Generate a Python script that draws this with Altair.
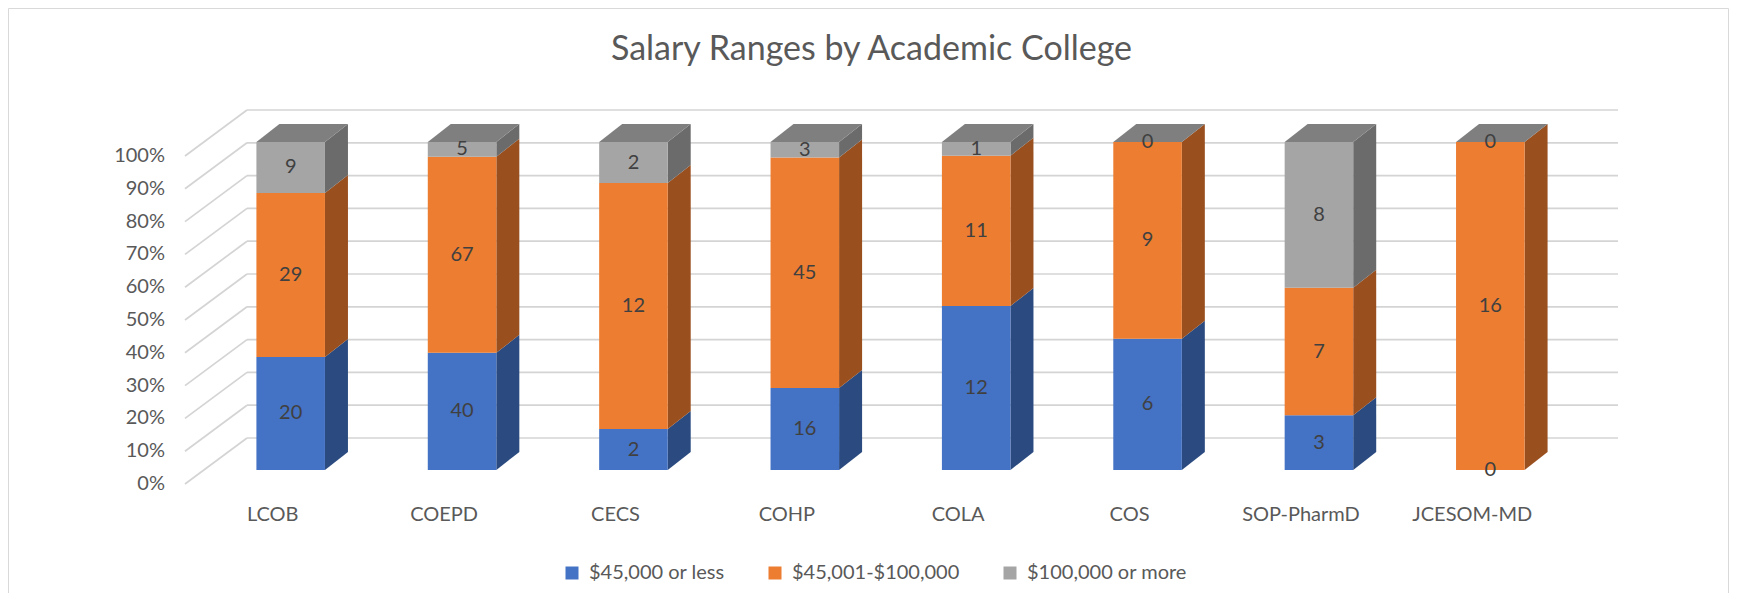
import altair as alt
import pandas as pd

# ---------------- data ----------------
colleges = ["LCOB", "COEPD", "CECS", "COHP", "COLA", "COS", "SOP-PharmD", "JCESOM-MD"]
series = ["$45,000 or less", "$45,001-$100,000", "$100,000 or more"]
count_low = [20, 40, 2, 16, 12, 6, 3, 0]
count_mid = [29, 67, 12, 45, 11, 9, 7, 16]
count_high = [9, 5, 2, 3, 1, 0, 8, 0]
pct_ticks = [0.0, 0.1, 0.2, 0.3, 0.4, 0.5, 0.6, 0.7, 0.8, 0.9, 1.0]
title_text = "Salary Ranges by Academic College"

# ---------------- style ----------------
front_colors = ["#4472C4", "#ED7D31", "#A5A5A5"]
side_colors = ["#2B4B80", "#9A4F1F", "#6B6B6B"]
top_color = "#7F7F7F"
grid_color = "#D4D4D4"
text_color = "#595959"
value_color = "#404040"
FONT = "Lato"

W, H = 1371, 328
PAD = {"left": 197, "top": 134, "right": 153, "bottom": 123}
UX = W / 8.0
HALF = 0.2                 # half bar width in category units
DX = 23.0 / UX             # 3D depth of bar (x, units)
DY = 18.0 / H              # 3D depth of bar (y, units)
WALL_DX, WALL_DY = 42, -32     # back wall offset in px
FLOOR_DX, FLOOR_DY = -20, 14   # front edge offset in px

rows = []
for i, c in enumerate(colleges):
    for k, vals in enumerate([count_low, count_mid, count_high]):
        rows.append({"college": c, "idx": i, "series": series[k], "sorder": k, "count": vals[i]})
df = pd.DataFrame(rows)
ticks_df = pd.DataFrame({"v": pct_ticks})
cat_df = pd.DataFrame({"college": colleges, "idx": list(range(len(colleges)))})

x_scale = alt.Scale(domain=[0, 8], nice=False, zero=False)
y_scale = alt.Scale(domain=[0, 1], nice=False, zero=False)

# ---------------- decoration ----------------
border = alt.Chart(pd.DataFrame({"b": [0]})).mark_rect(
    fillOpacity=0, stroke="#D9D9D9", strokeWidth=1
).encode(x=alt.value(-196.5), x2=alt.value(1523.5), y=alt.value(-133.5), y2=alt.value(480))

wall = alt.Chart(ticks_df).mark_rule(
    color=grid_color, strokeWidth=1.7, xOffset=WALL_DX, x2Offset=WALL_DX, yOffset=WALL_DY
).encode(
    x=alt.X(datum=0, scale=x_scale, axis=None),
    x2=alt.X2(datum=8),
    y=alt.Y("v:Q", scale=y_scale, axis=None),
)

side_wall = alt.Chart(ticks_df).mark_rule(
    color=grid_color, strokeWidth=1.7,
    xOffset=FLOOR_DX, yOffset=FLOOR_DY, x2Offset=WALL_DX, y2Offset=WALL_DY
).encode(
    x=alt.X(datum=0, scale=x_scale, axis=None),
    x2=alt.X2(datum=0),
    y=alt.Y("v:Q", scale=y_scale, axis=None),
    y2=alt.Y2("v:Q"),
)

# axis labels (value axis at the front edge of the side wall, categories on the floor edge)
y_labels = alt.Chart(ticks_df).mark_text(
    align="right", baseline="middle", dx=-40, dy=FLOOR_DY, font=FONT, fontSize=20, color=text_color
).encode(
    x=alt.X(datum=0, scale=x_scale, axis=None),
    y=alt.Y("v:Q", scale=y_scale, axis=None),
    text=alt.Text("v:Q", format=".0%"),
)

x_labels = alt.Chart(cat_df).transform_calculate(xc="datum.idx + 0.5").mark_text(
    align="center", baseline="middle", dx=-18, dy=45, font=FONT, fontSize=20, color=text_color
).encode(
    x=alt.X("xc:Q", scale=x_scale, axis=None),
    y=alt.Y(datum=0, scale=y_scale, axis=None),
    text="college:N",
)

# ---------------- bars ----------------
stacked = alt.Chart(df).transform_stack(
    stack="count", groupby=["college"], as_=["lo", "hi"], offset="normalize",
    sort=[alt.SortField("sorder", order="ascending")]
).transform_calculate(
    xc="datum.idx + 0.5",
    xl="datum.idx + 0.5 - %f" % HALF,
    xr="datum.idx + 0.5 + %f" % HALF,
    mid="(datum.lo + datum.hi) / 2",
    seg="datum.college + '|' + datum.series",
)

folded = stacked.transform_calculate(k0="0", k1="1").transform_fold(["k0", "k1"], as_=["kk", "kv"])

sides = folded.transform_calculate(
    sx="datum.xr + datum.kv * %f" % DX,
    sy="datum.lo + datum.kv * %f" % DY,
    sy2="datum.hi + datum.kv * %f" % DY,
).mark_area(strokeWidth=0, interpolate="linear").encode(
    x=alt.X("sx:Q", scale=x_scale, axis=None),
    y=alt.Y("sy:Q", scale=y_scale, axis=None, stack=None),
    y2=alt.Y2("sy2:Q"),
    detail="seg:N",
    color=alt.Color("series:N", scale=alt.Scale(domain=series, range=side_colors), legend=None),
)

tops = folded.transform_filter(
    alt.datum.sorder == len(series) - 1
).transform_calculate(
    ty="datum.hi + datum.kv * %f" % DY,
    tx="datum.xl + datum.kv * %f" % DX,
    tx2="datum.xr + datum.kv * %f" % DX,
).mark_area(orient="horizontal", color=top_color, strokeWidth=0).encode(
    y=alt.Y("ty:Q", scale=y_scale, axis=None, stack=None),
    x=alt.X("tx:Q", scale=x_scale, axis=None),
    x2=alt.X2("tx2:Q"),
    detail="college:N",
)

fronts = stacked.mark_rect(strokeWidth=0).encode(
    x=alt.X("xl:Q", scale=x_scale, axis=None),
    x2=alt.X2("xr:Q"),
    y=alt.Y("lo:Q", scale=y_scale, axis=None),
    y2=alt.Y2("hi:Q"),
    color=alt.Color(
        "series:N",
        scale=alt.Scale(domain=series, range=front_colors),
        sort=series,
        legend=alt.Legend(
            title=None, orient="none", direction="horizontal", legendX=357, legendY=421,
            symbolType="square", symbolSize=169, symbolStrokeWidth=0, labelOffset=7,
            columnPadding=40, padding=0, labelFont=FONT, labelFontSize=20,
            labelColor=text_color, labelLimit=400,
        ),
    ),
)

labels = stacked.mark_text(font=FONT, fontSize=20, color=value_color, baseline="middle", align="center").encode(
    x=alt.X("xc:Q", scale=x_scale, axis=None),
    y=alt.Y("mid:Q", scale=y_scale, axis=None),
    text=alt.Text("count:Q"),
)

chart = alt.layer(border, wall, side_wall, y_labels, x_labels, sides, tops, fronts, labels).resolve_scale(
    color="independent"
).properties(
    width=W, height=H,
    autosize=alt.AutoSizeParams(type="none"),
    padding=PAD,
    background="white",
    title=alt.TitleParams(
        text=title_text, anchor="middle", frame="group", dx=-19, offset=-86,
        baseline="alphabetic", font=FONT, fontSize=34, fontWeight="normal", color=text_color,
    ),
).configure_view(stroke=None)

chart.save("out.html", embed_options={"renderer": "svg", "actions": False})
